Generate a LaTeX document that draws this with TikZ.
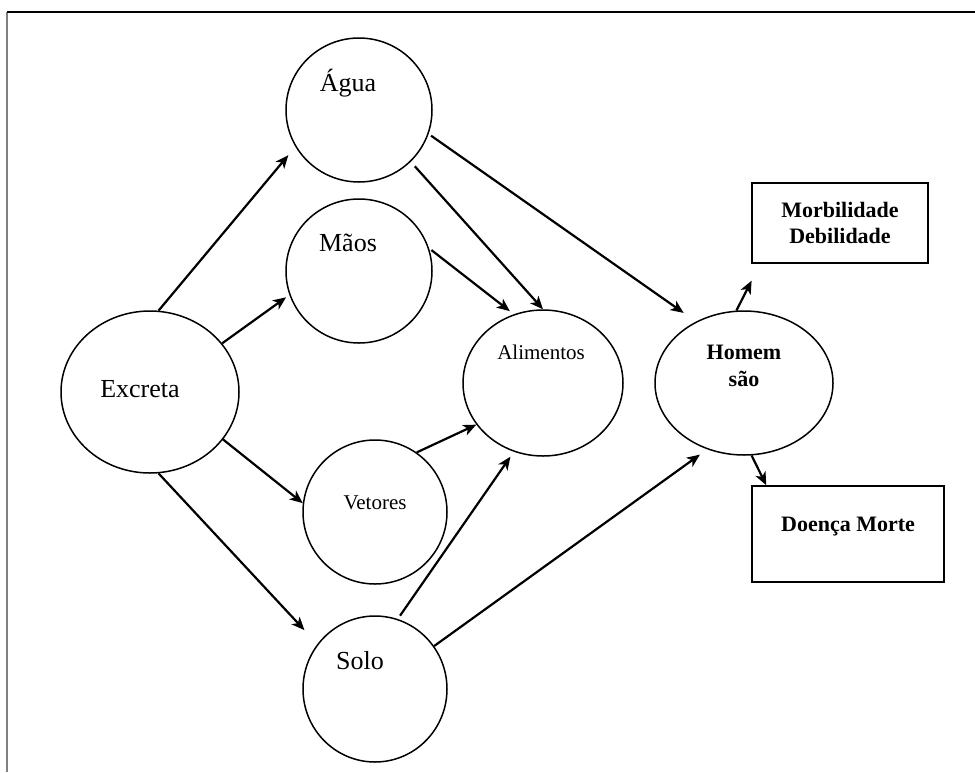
\documentclass[tikz,border=0pt]{standalone}
\usepackage{fontspec}
\setmainfont{Liberation Serif}
\usetikzlibrary{arrows.meta, shapes.geometric}

\tikzset{
    bubble/.style = {draw, ellipse, line width = 1.5pt, inner sep = 0pt},
    box/.style = {draw, rectangle, line width = 1.5pt, inner sep = 0pt, align = center},
    bigtext/.style = {font = \fontsize{26}{30}\selectfont},
    smalltext/.style = {font = \fontsize{21}{25}\selectfont},
    boldtext/.style = {font = \fontsize{22}{26.5}\selectfont\bfseries, align = center},
    link/.style = {-{Stealth[length = 13pt, width = 11pt, inset = 3.5pt]}, line width = 2.2pt}
}

\begin{document}
\begin{tikzpicture}
        \useasboundingbox (0pt, 0pt) rectangle (975pt, -772pt);

        % Frame
        \draw [line width = 1.5pt, color = gray] (7pt, -772pt) -- (7pt, -12pt);
        \draw [line width = 1.2pt] (7pt, -12pt) -- (975pt, -12pt);

        % Nodes
        \node [bubble, minimum width = 178pt, minimum height = 162pt, label = {[bigtext, shift = {(-10pt, 3pt)}]center:Excreta}] (excreta) at (150pt, -392pt) {};
        \node [bubble, minimum width = 146pt, minimum height = 144pt, label = {[bigtext, shift = {(-11pt, 27pt)}]center:Água}] (agua) at (359pt, -110pt) {};
        \node [bubble, minimum width = 146pt, minimum height = 144pt, label = {[bigtext, shift = {(-11pt, 28pt)}]center:Mãos}] (maos) at (359pt, -271pt) {};
        \node [bubble, minimum width = 144pt, minimum height = 144pt, label = {[smalltext, shift = {(0pt, 9pt)}]center:Vetores}] (vetores) at (375pt, -512pt) {};
        \node [bubble, minimum width = 144pt, minimum height = 146pt, label = {[bigtext, shift = {(-15pt, 28pt)}]center:Solo}] (solo) at (375pt, -689pt) {};
        \node [bubble, minimum width = 160pt, minimum height = 146pt, label = {[smalltext, shift = {(-2pt, 31pt)}]center:Alimentos}] (alimentos) at (543pt, -383pt) {};
        \node [bubble, minimum width = 178pt, minimum height = 144pt, label = {[boldtext, yshift = 17pt]center:Homem\\são}] (homem) at (744pt, -383pt) {};
        \node [box, boldtext, minimum width = 176pt, minimum height = 80pt] (morb) at (840pt, -223pt) {Morbilidade\\Debilidade};
        \node [box, minimum width = 192pt, minimum height = 96pt, label = {[boldtext, yshift = 7pt]center:Doença Morte}] (doenca) at (848pt, -534pt) {};

        % Draw the links
        \draw [link, shorten > = 11pt] (excreta.84) -- (agua.210);
        \draw [link, shorten > = 4pt] (excreta.34) -- (maos.199);
        \draw [link] (excreta.327) -- (vetores.173);
        \draw [link, shorten > = 19pt] (excreta.276) -- (solo.142);
        \draw [link, shorten < = 3pt, shorten > = 15pt] (agua.341) -- (homem.128);
        \draw [link, shorten < = 6pt] (agua.315) -- (alimentos.90);
        \draw [link, shorten < = 3pt, shorten > = 5pt] (maos.18) -- (alimentos.113);
        \draw [link] (vetores.55) -- (alimentos.212);
        \draw [link, shorten < = 4pt, shorten > = 6pt] (solo.72) -- (alimentos.247);
        \draw [link, shorten > = 9pt] (solo.36) -- (homem.241);
        \draw [link, shorten > = 19pt] (homem.96) -- ([xshift = 9pt]morb.south west);
        \draw [link] (homem.276) -- ([xshift = 15pt]doenca.north west);

    \end{tikzpicture}
\end{document}
